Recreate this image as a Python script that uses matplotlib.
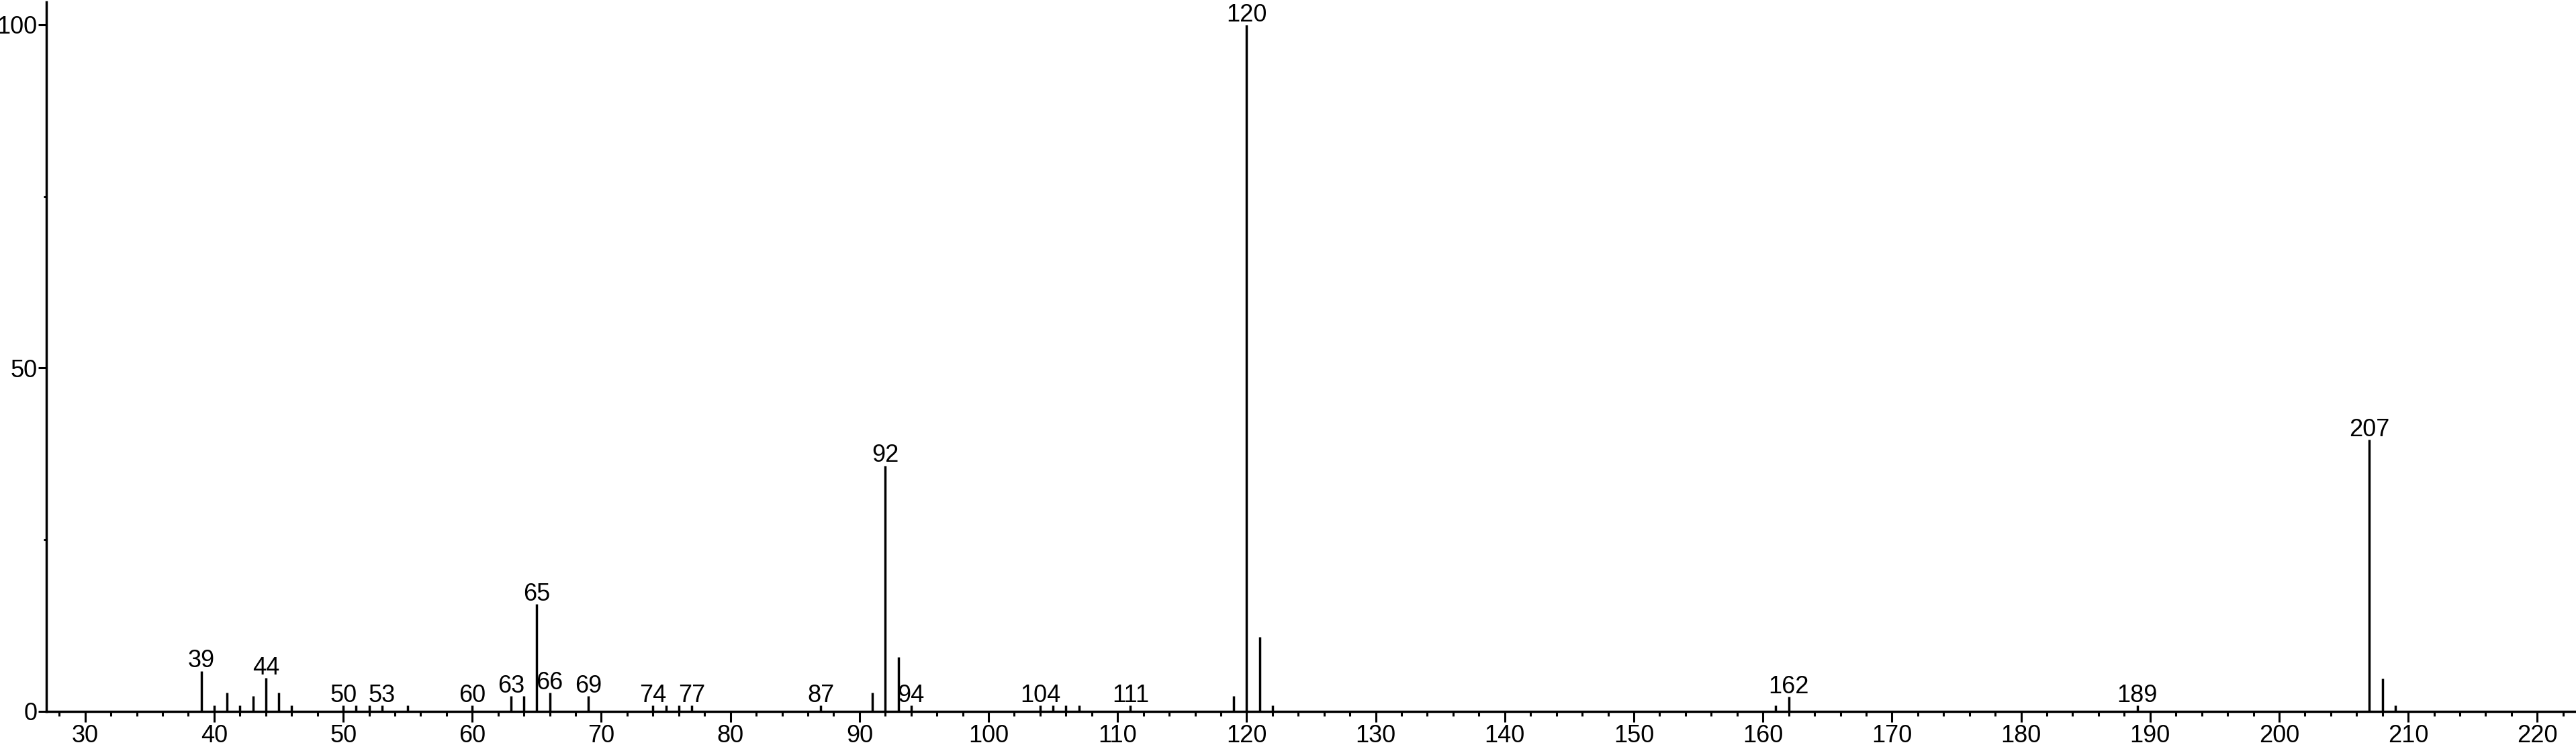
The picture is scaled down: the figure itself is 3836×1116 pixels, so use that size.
import matplotlib.pyplot as plt
from matplotlib.ticker import MultipleLocator, FixedLocator

plt.rcParams['font.family'] = ['Liberation Sans', 'DejaVu Sans']

# m/z and relative intensity
mz = [39, 40, 41, 42, 43, 44, 45, 46, 50, 51, 52, 53, 55,
      60, 63, 64, 65, 66, 69, 74, 75, 76, 77, 87, 91, 92, 93, 94,
      104, 105, 106, 107, 111, 119, 120, 121, 122,
      161, 162, 189, 207, 208, 209]
intensity = [5.9, 0.9, 2.7, 0.9, 2.2, 4.9, 2.7, 0.9, 0.9, 0.9, 0.9, 0.9, 0.9,
             0.9, 2.2, 2.2, 15.6, 2.7, 2.2, 0.9, 0.9, 0.9, 0.9, 0.9, 2.7, 35.8, 7.9, 0.9,
             0.9, 0.9, 0.9, 0.9, 0.9, 2.2, 100, 10.8, 0.9,
             0.9, 2.1, 0.9, 39.6, 4.8, 0.9]

# peaks that carry a label
labeled = [39, 44, 50, 53, 60, 63, 65, 66, 69, 74, 77, 87, 92, 94,
           104, 111, 120, 162, 189, 207]

fig = plt.figure(figsize=(38.36, 11.16), dpi=100)
ax = fig.add_axes([0.018, 0.0502, 0.982, 0.9471])

ax.vlines(mz, 0, intensity, color='black', linewidth=2.5)

for m, h in zip(mz, intensity):
    if m in labeled:
        ax.annotate(str(m), (m, h), xytext=(0, -2), textcoords='offset points',
                    ha='center', va='bottom', fontsize=26)

ax.set_xlim(27, 223)
ax.set_ylim(0, 103.3)

ax.xaxis.set_major_locator(MultipleLocator(10))
ax.xaxis.set_minor_locator(MultipleLocator(2))
ax.yaxis.set_major_locator(FixedLocator([0, 50, 100]))
ax.yaxis.set_minor_locator(FixedLocator([25, 75]))

ax.tick_params(axis='x', which='major', length=11.5, width=2.2, labelsize=26, pad=2)
ax.tick_params(axis='x', which='minor', length=5, width=2.2)
ax.tick_params(axis='y', which='major', length=8.5, width=2.2, labelsize=26, pad=1)
ax.tick_params(axis='y', which='minor', length=3, width=2.2)

for s in ['top', 'right']:
    ax.spines[s].set_visible(False)
for s in ['left', 'bottom']:
    ax.spines[s].set_linewidth(2.5)

fig.savefig('out.png', dpi=100)
